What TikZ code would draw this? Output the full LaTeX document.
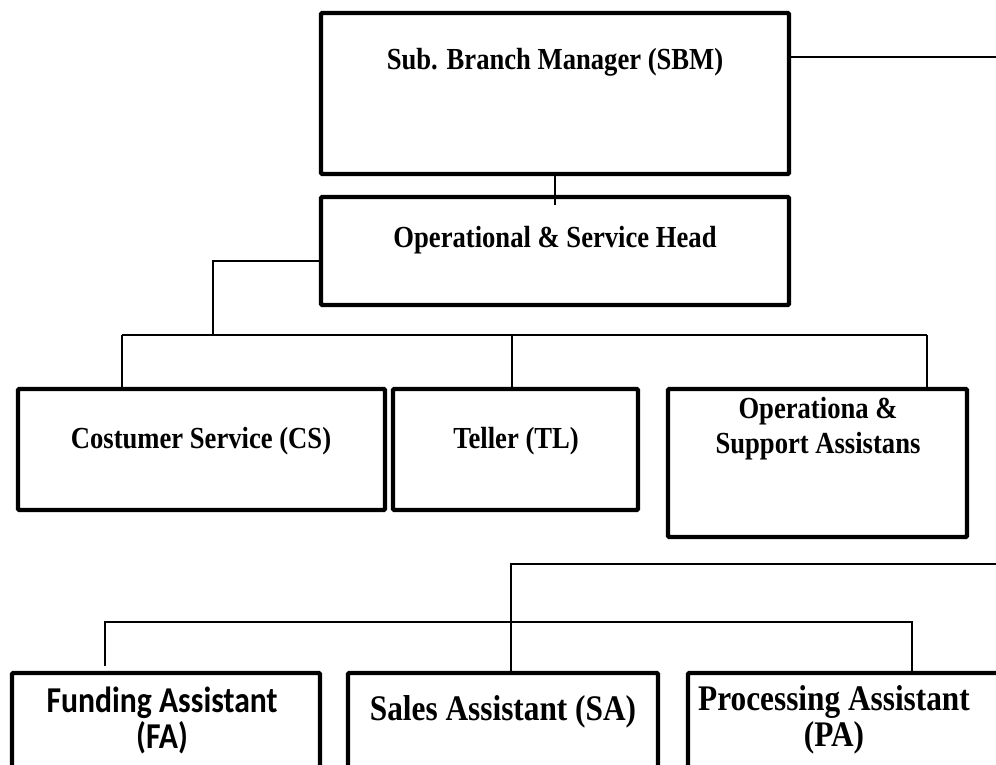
\documentclass[tikz,border=0pt]{standalone}
\usepackage{fontspec}
\setmainfont{Liberation Serif}
\newfontfamily\tnr[FakeStretch=0.87]{Liberation Serif}
\newfontfamily\calfont[FakeStretch=0.87]{Carlito}
\usetikzlibrary{calc}
\begin{document}
\begin{tikzpicture}[x=1pt,y=-1pt,
  box/.style={draw,line width=4.3pt,rounded corners=1.2pt,anchor=north west,inner sep=0pt,outer sep=0pt},
  conn/.style={line width=1.5pt},
  lbl/.style={font=\fontsize{30.6}{35}\tnr\bfseries,align=center,inner sep=0pt},
  lblb/.style={font=\fontsize{36}{36}\tnr\bfseries,align=center,inner sep=0pt}]
\useasboundingbox (0,0) rectangle (996,764);
\clip (0,0) rectangle (996,764);
% boxes
\node[box,minimum width=468pt,minimum height=161pt] (sbm) at (321,13) {};
\node[box,minimum width=468pt,minimum height=108pt] (osh) at (321,197) {};
\node[box,minimum width=367pt,minimum height=121pt] (cs) at (18,389) {};
\node[box,minimum width=245pt,minimum height=121pt] (tl) at (393,389) {};
\node[box,minimum width=299pt,minimum height=148pt] (osa) at (668,389) {};
\node[box,minimum width=308pt,minimum height=130pt] (fa) at (12,673) {};
\node[box,minimum width=310pt,minimum height=130pt] (sa) at (348,673) {};
\node[box,minimum width=330pt,minimum height=130pt] (pa) at (688,673) {};
% texts
\node[lbl] (tsbm) at (555,62) {Sub. Branch Manager (SBM)};
\node[lbl] (tosh) at (555,240) {Operational \& Service Head};
\node[lbl] (tcs) at (201,441) {Costumer Service (CS)};
\node[lbl] (ttl) at (516,441) {Teller (TL)};
\node[lbl] (tosa) at (818,429) {Operationa \&\\Support Assistans};
\node[lblb,font=\fontsize{36.4}{36}\calfont\bfseries] (tfa) at (162,720) {Funding Assistant\\(FA)};
\node[lblb] (tsa) at (503,712) {Sales Assistant (SA)};
\node[lblb] (tpa) at (834,720) {Processing Assistant\\(PA)};
% junction coordinates
\coordinate (rA) at (996,57);
\coordinate (j1) at (213,335);
\coordinate (b1L) at (122,335);
\coordinate (b1M) at (512,335);
\coordinate (b1R) at (927,335);
\coordinate (rB) at (996,564);
\coordinate (j2) at (511,564);
\coordinate (b2L) at (105,622);
\coordinate (b2R) at (912,622);
\coordinate (faTop) at (105,666);
% connectors
\draw[conn] (sbm.east |- rA) -- (rA);
\draw[conn] (sbm.south) -- ([yshift=-8pt]osh.north);
\draw[conn] ([yshift=-10pt]osh.west) -| (j1);
\draw[conn] (b1L) -- (b1R);
\draw[conn] (b1L) -- (b1L |- cs.north);
\draw[conn] (b1M) -- (b1M |- tl.north);
\draw[conn] (b1R) -- (b1R |- osa.north);
\draw[conn] (rB) -- (j2) -- (j2 |- sa.north);
\draw[conn] (faTop) -- (b2L) -- (b2R) -- (b2R |- pa.north);
\end{tikzpicture}
\end{document}
